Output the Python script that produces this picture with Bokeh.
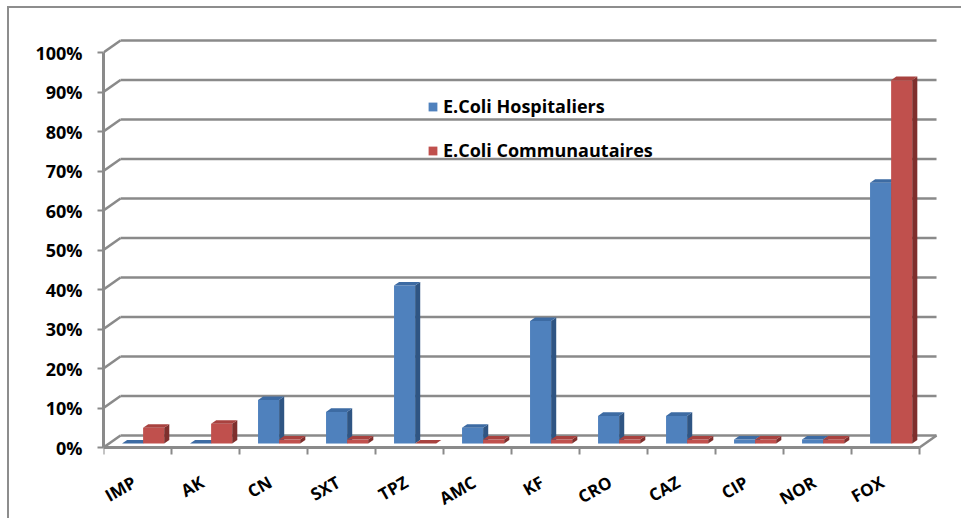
from bokeh.plotting import figure
from bokeh.models import Range1d, FixedTicker, Legend, LegendItem, ColumnDataSource
from bokeh.core.properties import value
from bokeh.embed import file_html
from bokeh.resources import INLINE

# ---- data ----
categories = ["IMP", "AK", "CN", "SXT", "TPZ", "AMC", "KF", "CRO", "CAZ", "CIP", "NOR", "FOX"]
hospitaliers = [0, 0, 11, 8, 40, 4, 31, 7, 7, 1, 1, 66]
communautaires = [4, 5, 1, 1, 0, 1, 1, 1, 1, 1, 1, 92]
y_ticks = [0, 10, 20, 30, 40, 50, 60, 70, 80, 90, 100]
y_tick_labels = ["0%", "10%", "20%", "30%", "40%", "50%", "60%", "70%", "80%", "90%", "100%"]
series_names = ["E.Coli Hospitaliers", "E.Coli Communautaires"]

# ---- style / 3D geometry ----
FONT = "Open Sans"
GRID = "#8a8a8a"
PX = 3.95      # pixels per percent unit
DX = 0.25      # depth offset of back wall, in category units
DY = 12 / PX   # depth offset of back wall, in percent units
F = 0.33       # bar placement within depth
G = 0.30       # bar depth fraction
BAR_W = 0.31
BAR_L = 0.19
TICK_LEN = 7 / PX
LABEL_DROP = 23 / PX

n = len(categories)
p = figure(width=961, height=518,
           x_range=Range1d(0, 12.382), y_range=Range1d(-71 / PX, 417 / PX),
           output_backend="svg", toolbar_location=None,
           min_border_left=103, min_border_right=16, min_border_top=30, min_border_bottom=0)
p.styles = {
    "background-color": "white",
    "background-image": "linear-gradient(#8d8d8d, #8d8d8d), linear-gradient(#8d8d8d, #8d8d8d)",
    "background-size": "2px 100%, 100% 2px",
    "background-position": "7px 6px, 7px 6px",
    "background-repeat": "no-repeat",
}
p.outline_line_color = None
p.xgrid.visible = False
p.ygrid.visible = False
p.xaxis.visible = False
p.background_fill_color = "white"
p.border_fill_color = None

# back wall gridlines + side diagonals
p.segment(x0=[DX] * len(y_ticks), y0=[v + DY for v in y_ticks],
          x1=[n + DX] * len(y_ticks), y1=[v + DY for v in y_ticks],
          line_color=GRID, line_width=2.5)
p.segment(x0=[0] * len(y_ticks), y0=y_ticks,
          x1=[DX] * len(y_ticks), y1=[v + DY for v in y_ticks],
          line_color=GRID, line_width=2.5)
# floor: front edge, right edge, category boundary ticks
p.segment(x0=[0], y0=[0], x1=[n], y1=[0], line_color=GRID, line_width=3)
p.segment(x0=[n], y0=[0], x1=[n + DX], y1=[DY], line_color=GRID, line_width=2.5)
bounds = list(range(n + 1))
p.segment(x0=bounds, y0=[0] * len(bounds), x1=bounds, y1=[-TICK_LEN] * len(bounds),
          line_color=GRID, line_width=2)


def bar_geom(values, offset):
    lefts, rights, bottoms, tops = [], [], [], []
    side_xs, side_ys, top_xs, top_ys = [], [], [], []
    for i, v in enumerate(values):
        l = i + offset + F * DX
        r = l + BAR_W
        b = F * DY
        t = v + F * DY
        lefts.append(l); rights.append(r); bottoms.append(b); tops.append(t)
        gx, gy = G * DX, G * DY
        side_xs.append([r, r + gx, r + gx, r])
        side_ys.append([b, b + gy, t + gy, t])
        top_xs.append([l, r, r + gx, l + gx])
        top_ys.append([t, t, t + gy, t + gy])
    return (dict(left=lefts, right=rights, bottom=bottoms, top=tops),
            dict(xs=side_xs, ys=side_ys), dict(xs=top_xs, ys=top_ys))


renderers = []
for values, offset, front, side, topc in [
        (hospitaliers, BAR_L, "#4F81BD", "#2F5583", "#3D6BA3"),
        (communautaires, BAR_L + BAR_W, "#C0504D", "#7F2F2D", "#A8423F")]:
    fr, sd, tp = bar_geom(values, offset)
    r = p.quad(source=ColumnDataSource(fr), left="left", right="right", bottom="bottom", top="top",
               fill_color=front, line_color=None)
    p.patches(source=ColumnDataSource(sd), xs="xs", ys="ys", fill_color=side, line_color=None)
    p.patches(source=ColumnDataSource(tp), xs="xs", ys="ys", fill_color=topc, line_color=None)
    renderers.append(r)

# category labels, rotated
centers = [i + 0.5 for i in range(n)]
p.text(x=centers, y=[-LABEL_DROP] * n, text=categories, angle=0.52,
       text_align="right", text_baseline="top", x_offset=-9,
       text_font=value(FONT), text_font_style="bold", text_font_size="17px",
       text_color="black")

# y axis
p.yaxis.ticker = FixedTicker(ticks=y_ticks)
p.yaxis.major_label_overrides = {v: s for v, s in zip(y_ticks, y_tick_labels)}
p.yaxis.bounds = (0, 100)
p.yaxis.axis_line_color = GRID
p.yaxis.axis_line_width = 3
p.yaxis.major_tick_line_color = GRID
p.yaxis.major_tick_line_width = 2
p.yaxis.major_tick_out = 6
p.yaxis.major_tick_in = 0
p.yaxis.minor_tick_line_color = None
p.yaxis.major_label_standoff = 15
p.yaxis.major_label_text_font = FONT
p.yaxis.major_label_text_font_style = "bold"
p.yaxis.major_label_text_font_size = "18px"
p.yaxis.major_label_text_color = "black"

legend = Legend(items=[LegendItem(label=series_names[0], renderers=[renderers[0]]),
                       LegendItem(label=series_names[1], renderers=[renderers[1]])],
                location=(324, 356), orientation="vertical")
legend.background_fill_alpha = 0
legend.border_line_color = None
legend.padding = 0
legend.margin = 0
legend.spacing = 20
legend.glyph_width = 11
legend.glyph_height = 11
legend.label_height = 20
legend.label_standoff = 5
legend.label_text_font = FONT
legend.label_text_font_style = "bold"
legend.label_text_font_size = "18px"
legend.label_text_color = "black"
p.add_layout(legend, "center")

open("out.html", "w").write(file_html(p, INLINE))
